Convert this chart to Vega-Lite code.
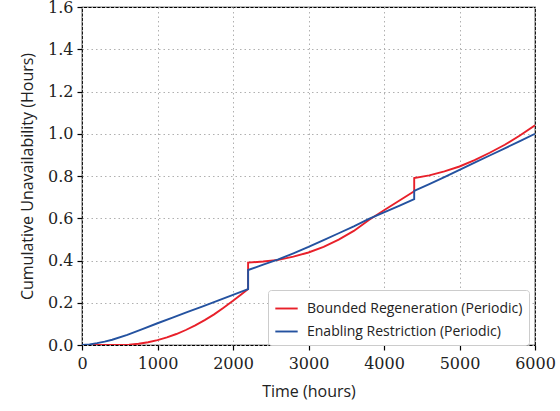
{
  "$schema": "https://vega.github.io/schema/vega-lite/v6.json",
  "width": 453,
  "height": 338,
  "autosize": {"type": "none"},
  "padding": {"left": 82, "top": 7, "right": 25, "bottom": 66},
  "background": "white",
  "config": {
    "view": {"stroke": "black", "strokeWidth": 1.2}
  },
  "data": {
    "values": [
      {"s": "Bounded Regeneration (Periodic)", "i": 0, "t": 0, "v": 0},
      {"s": "Bounded Regeneration (Periodic)", "i": 1, "t": 250, "v": 0},
      {"s": "Bounded Regeneration (Periodic)", "i": 2, "t": 500, "v": 0},
      {"s": "Bounded Regeneration (Periodic)", "i": 3, "t": 625, "v": 0.0015},
      {"s": "Bounded Regeneration (Periodic)", "i": 4, "t": 750, "v": 0.006},
      {"s": "Bounded Regeneration (Periodic)", "i": 5, "t": 875, "v": 0.013},
      {"s": "Bounded Regeneration (Periodic)", "i": 6, "t": 1000, "v": 0.023},
      {"s": "Bounded Regeneration (Periodic)", "i": 7, "t": 1125, "v": 0.036},
      {"s": "Bounded Regeneration (Periodic)", "i": 8, "t": 1250, "v": 0.052},
      {"s": "Bounded Regeneration (Periodic)", "i": 9, "t": 1375, "v": 0.071},
      {"s": "Bounded Regeneration (Periodic)", "i": 10, "t": 1500, "v": 0.093},
      {"s": "Bounded Regeneration (Periodic)", "i": 11, "t": 1625, "v": 0.118},
      {"s": "Bounded Regeneration (Periodic)", "i": 12, "t": 1750, "v": 0.145},
      {"s": "Bounded Regeneration (Periodic)", "i": 13, "t": 1875, "v": 0.176},
      {"s": "Bounded Regeneration (Periodic)", "i": 14, "t": 2000, "v": 0.209},
      {"s": "Bounded Regeneration (Periodic)", "i": 15, "t": 2100, "v": 0.237},
      {"s": "Bounded Regeneration (Periodic)", "i": 16, "t": 2200, "v": 0.265},
      {"s": "Bounded Regeneration (Periodic)", "i": 17, "t": 2200, "v": 0.39},
      {"s": "Bounded Regeneration (Periodic)", "i": 18, "t": 2400, "v": 0.395},
      {"s": "Bounded Regeneration (Periodic)", "i": 19, "t": 2600, "v": 0.403},
      {"s": "Bounded Regeneration (Periodic)", "i": 20, "t": 2800, "v": 0.418},
      {"s": "Bounded Regeneration (Periodic)", "i": 21, "t": 3000, "v": 0.438},
      {"s": "Bounded Regeneration (Periodic)", "i": 22, "t": 3200, "v": 0.465},
      {"s": "Bounded Regeneration (Periodic)", "i": 23, "t": 3400, "v": 0.499},
      {"s": "Bounded Regeneration (Periodic)", "i": 24, "t": 3600, "v": 0.54},
      {"s": "Bounded Regeneration (Periodic)", "i": 25, "t": 3800, "v": 0.592},
      {"s": "Bounded Regeneration (Periodic)", "i": 26, "t": 4000, "v": 0.638},
      {"s": "Bounded Regeneration (Periodic)", "i": 27, "t": 4200, "v": 0.683},
      {"s": "Bounded Regeneration (Periodic)", "i": 28, "t": 4400, "v": 0.728},
      {"s": "Bounded Regeneration (Periodic)", "i": 29, "t": 4400, "v": 0.79},
      {"s": "Bounded Regeneration (Periodic)", "i": 30, "t": 4600, "v": 0.803},
      {"s": "Bounded Regeneration (Periodic)", "i": 31, "t": 4800, "v": 0.822},
      {"s": "Bounded Regeneration (Periodic)", "i": 32, "t": 5000, "v": 0.845},
      {"s": "Bounded Regeneration (Periodic)", "i": 33, "t": 5200, "v": 0.875},
      {"s": "Bounded Regeneration (Periodic)", "i": 34, "t": 5400, "v": 0.91},
      {"s": "Bounded Regeneration (Periodic)", "i": 35, "t": 5600, "v": 0.948},
      {"s": "Bounded Regeneration (Periodic)", "i": 36, "t": 5800, "v": 0.992},
      {"s": "Bounded Regeneration (Periodic)", "i": 37, "t": 6000, "v": 1.04},
      {"s": "Enabling Restriction (Periodic)", "i": 0, "t": 0, "v": 0},
      {"s": "Enabling Restriction (Periodic)", "i": 1, "t": 100, "v": 0.003},
      {"s": "Enabling Restriction (Periodic)", "i": 2, "t": 200, "v": 0.009},
      {"s": "Enabling Restriction (Periodic)", "i": 3, "t": 300, "v": 0.016},
      {"s": "Enabling Restriction (Periodic)", "i": 4, "t": 400, "v": 0.025},
      {"s": "Enabling Restriction (Periodic)", "i": 5, "t": 600, "v": 0.048},
      {"s": "Enabling Restriction (Periodic)", "i": 6, "t": 800, "v": 0.075},
      {"s": "Enabling Restriction (Periodic)", "i": 7, "t": 1000, "v": 0.103},
      {"s": "Enabling Restriction (Periodic)", "i": 8, "t": 1200, "v": 0.13},
      {"s": "Enabling Restriction (Periodic)", "i": 9, "t": 1400, "v": 0.157},
      {"s": "Enabling Restriction (Periodic)", "i": 10, "t": 1600, "v": 0.183},
      {"s": "Enabling Restriction (Periodic)", "i": 11, "t": 1800, "v": 0.21},
      {"s": "Enabling Restriction (Periodic)", "i": 12, "t": 2000, "v": 0.237},
      {"s": "Enabling Restriction (Periodic)", "i": 13, "t": 2200, "v": 0.265},
      {"s": "Enabling Restriction (Periodic)", "i": 14, "t": 2200, "v": 0.355},
      {"s": "Enabling Restriction (Periodic)", "i": 15, "t": 2400, "v": 0.38},
      {"s": "Enabling Restriction (Periodic)", "i": 16, "t": 2600, "v": 0.405},
      {"s": "Enabling Restriction (Periodic)", "i": 17, "t": 2800, "v": 0.434},
      {"s": "Enabling Restriction (Periodic)", "i": 18, "t": 3000, "v": 0.464},
      {"s": "Enabling Restriction (Periodic)", "i": 19, "t": 3200, "v": 0.496},
      {"s": "Enabling Restriction (Periodic)", "i": 20, "t": 3400, "v": 0.529},
      {"s": "Enabling Restriction (Periodic)", "i": 21, "t": 3600, "v": 0.562},
      {"s": "Enabling Restriction (Periodic)", "i": 22, "t": 3800, "v": 0.597},
      {"s": "Enabling Restriction (Periodic)", "i": 23, "t": 4000, "v": 0.628},
      {"s": "Enabling Restriction (Periodic)", "i": 24, "t": 4200, "v": 0.659},
      {"s": "Enabling Restriction (Periodic)", "i": 25, "t": 4400, "v": 0.69},
      {"s": "Enabling Restriction (Periodic)", "i": 26, "t": 4400, "v": 0.73},
      {"s": "Enabling Restriction (Periodic)", "i": 27, "t": 4600, "v": 0.762},
      {"s": "Enabling Restriction (Periodic)", "i": 28, "t": 4800, "v": 0.795},
      {"s": "Enabling Restriction (Periodic)", "i": 29, "t": 5000, "v": 0.829},
      {"s": "Enabling Restriction (Periodic)", "i": 30, "t": 5200, "v": 0.863},
      {"s": "Enabling Restriction (Periodic)", "i": 31, "t": 5400, "v": 0.897},
      {"s": "Enabling Restriction (Periodic)", "i": 32, "t": 5600, "v": 0.931},
      {"s": "Enabling Restriction (Periodic)", "i": 33, "t": 5800, "v": 0.965},
      {"s": "Enabling Restriction (Periodic)", "i": 34, "t": 6000, "v": 1.0}
    ]
  },
  "mark": {"type": "line", "strokeWidth": 1.9, "clip": true},
  "encoding": {
    "x": {
      "field": "t", "type": "quantitative",
      "scale": {"domain": [0, 6000], "nice": false, "zero": false},
      "axis": {
        "title": "Time (hours)", "values": [0, 1000, 2000, 3000, 4000, 5000, 6000], "format": "d",
        "labelFlush": false, "titlePadding": 12, "labelPadding": 5,
        "labelFont": "DejaVu Serif", "labelFontSize": 16, "labelColor": "#222",
        "titleFont": "Open Sans", "titleFontWeight": "normal", "titleFontSize": 16, "titleColor": "#222",
        "domain": false, "tickColor": "black", "tickSize": 5, "tickWidth": 1.2,
        "gridColor": "#b0b0b0", "gridDash": [1.5, 3], "gridWidth": 1
      }
    },
    "y": {
      "field": "v", "type": "quantitative",
      "scale": {"domain": [0, 1.6], "nice": false},
      "axis": {
        "title": "Cumulative Unavailability (Hours)", "values": [0, 0.2, 0.4, 0.6, 0.8, 1.0, 1.2, 1.4, 1.6], "format": ".1f",
        "labelFlush": false, "titlePadding": 12, "labelPadding": 4,
        "labelFont": "DejaVu Serif", "labelFontSize": 16, "labelColor": "#222",
        "titleFont": "Open Sans", "titleFontWeight": "normal", "titleFontSize": 16, "titleColor": "#222",
        "domain": false, "tickColor": "black", "tickSize": 5, "tickWidth": 1.2,
        "gridColor": "#b0b0b0", "gridDash": [1.5, 3], "gridWidth": 1
      }
    },
    "order": {"field": "i", "type": "quantitative"},
    "color": {
      "field": "s", "type": "nominal",
      "scale": {"domain": ["Bounded Regeneration (Periodic)", "Enabling Restriction (Periodic)"], "range": ["#e8202a", "#2452a0"]},
      "legend": {
        "title": null,
        "orient": "none",
        "legendX": 186,
        "legendY": 283,
        "symbolType": "stroke",
        "symbolSize": 500,
        "symbolStrokeWidth": 1.9,
        "labelFont": "Open Sans",
        "labelFontSize": 14,
        "labelLimit": 0,
        "labelOffset": 8,
        "labelColor": "#222",
        "fillColor": "white",
        "strokeColor": "#cccccc",
        "cornerRadius": 3,
        "padding": 6,
        "rowPadding": 3
      }
    }
  }
}
